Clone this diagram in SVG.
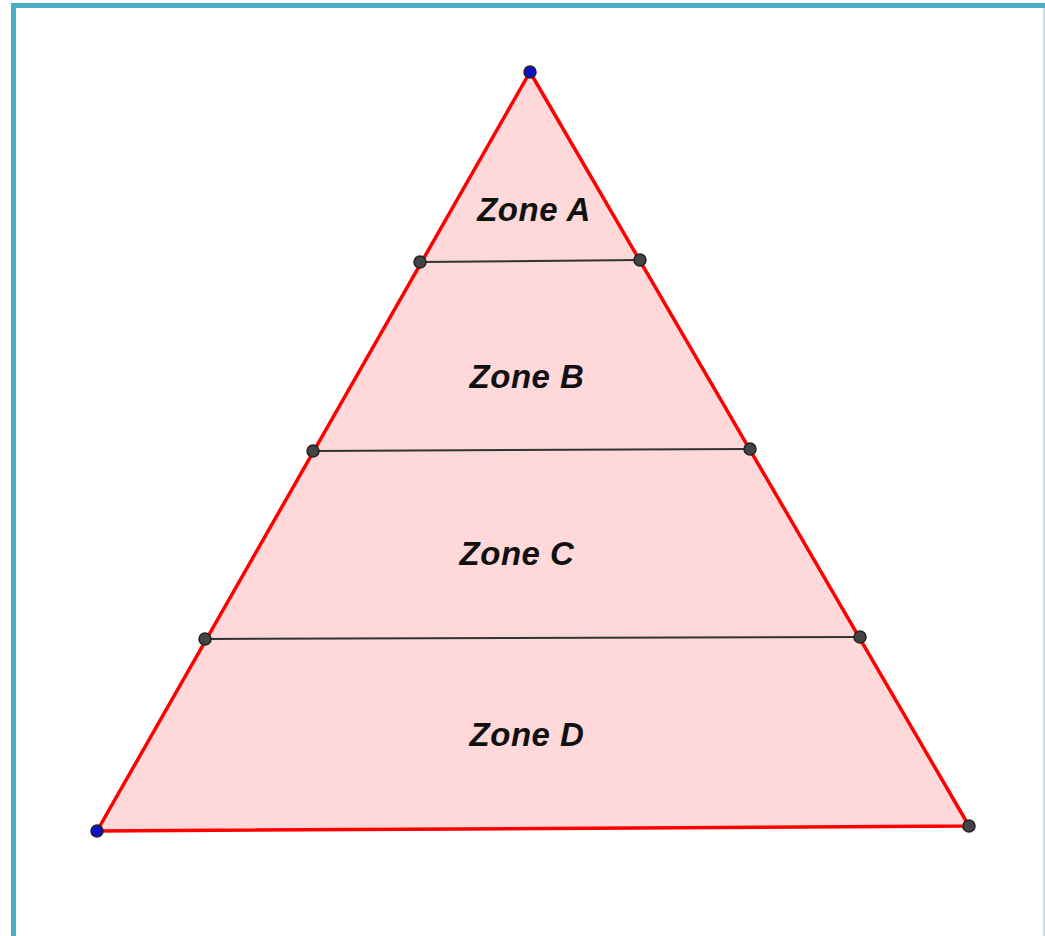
<svg xmlns="http://www.w3.org/2000/svg" width="1045" height="936" viewBox="0 0 1045 936">
<style>
.lbl{font-family:"Liberation Sans",Arial,sans-serif;font-weight:bold;font-style:italic;font-size:33px;letter-spacing:0.5px;fill:#111;text-anchor:middle}
.seg{stroke:#333;stroke-width:2;fill:none}
.bp{fill:#1010c8;stroke:#222;stroke-width:1.5}
.gp{fill:#444;stroke:#222;stroke-width:1.5}
</style>
<rect width="1045" height="936" fill="#fff"/>
<g id="frame">
<line x1="13.5" y1="5.5" x2="1045" y2="5.5" stroke="#4aacc6" stroke-width="5"/>
<line x1="13.5" y1="3" x2="13.5" y2="936" stroke="#4aacc6" stroke-width="5"/>
<line x1="1044" y1="8" x2="1044" y2="936" stroke="#bfe0ea" stroke-width="2"/>
</g>
<g id="triangle">
<polygon points="530,72 969,826 97,831" fill="#ffd9d9" stroke="#ff0000" stroke-width="3.5" stroke-linejoin="round"/>
</g>
<g id="connectors">
<line class="seg" x1="420" y1="262" x2="640" y2="260"/>
<line class="seg" x1="313" y1="451" x2="750" y2="449"/>
<line class="seg" x1="205" y1="639" x2="860" y2="637"/>
</g>
<g id="points">
<circle class="bp" cx="530" cy="72" r="6"/>
<circle class="bp" cx="97" cy="831" r="6"/>
<circle class="gp" cx="969" cy="826" r="6"/>
<circle class="gp" cx="420" cy="262" r="6"/>
<circle class="gp" cx="640" cy="260" r="6"/>
<circle class="gp" cx="313" cy="451" r="6"/>
<circle class="gp" cx="750" cy="449" r="6"/>
<circle class="gp" cx="205" cy="639" r="6"/>
<circle class="gp" cx="860" cy="637" r="6"/>
</g>
<g id="zoneA"><text class="lbl" x="534" y="221">Zone A</text></g>
<g id="zoneB"><text class="lbl" x="527" y="388">Zone B</text></g>
<g id="zoneC"><text class="lbl" x="517" y="565">Zone C</text></g>
<g id="zoneD"><text class="lbl" x="527" y="746">Zone D</text></g>
</svg>
